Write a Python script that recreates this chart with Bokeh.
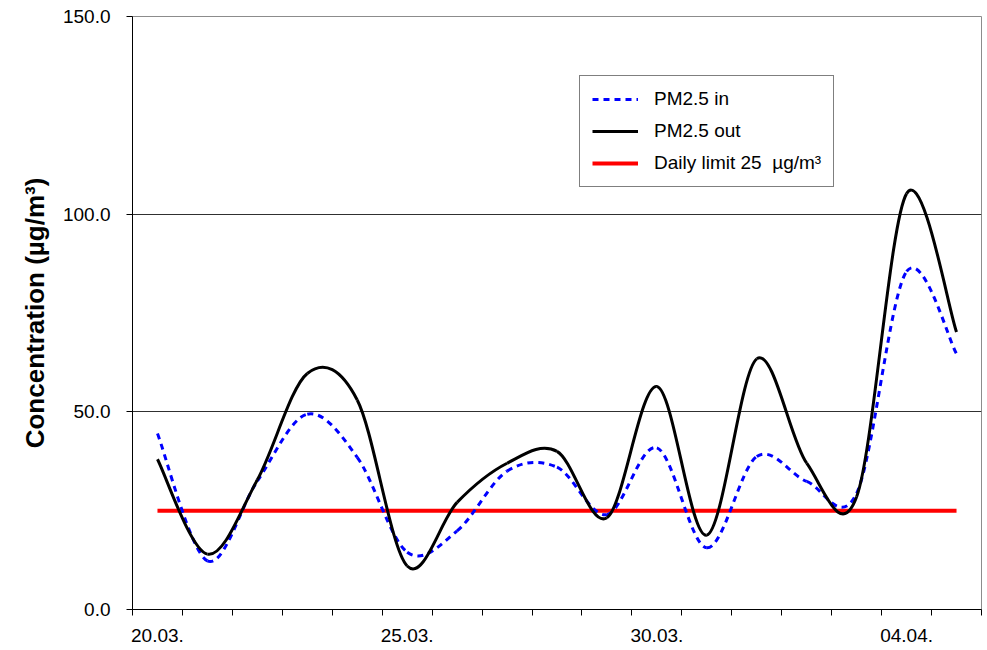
from bokeh.plotting import figure
from bokeh.models import (Range1d, FixedTicker, PrintfTickFormatter, Legend, LegendItem)
from bokeh.embed import file_html
from bokeh.resources import INLINE

# ---- data (daily values, 20.03. - 05.04.) ----
dates = ["20.03.", "21.03.", "22.03.", "23.03.", "24.03.", "25.03.", "26.03.", "27.03.",
         "28.03.", "29.03.", "30.03.", "31.03.", "01.04.", "02.04.", "03.04.", "04.04.", "05.04."]
pm_in = [44.5, 12.3, 32.5, 49.4, 38.5, 14.5, 19.9, 35.0, 36.0, 24.0, 40.9, 15.6, 38.7, 32.4, 29.4, 85.5, 64.7]
pm_out = [38.0, 14.0, 32.8, 59.7, 53.0, 11.0, 27.1, 37.0, 40.0, 23.2, 56.4, 18.8, 63.4, 37.0, 28.5, 105.2, 70.2]
daily_limit = [25] * len(dates)
label_days = ["20.03.", "25.03.", "30.03.", "04.04."]
y_ticks = [0, 50, 100, 150]

FONT = "Liberation Sans"

n = len(dates)
xs = [i + 0.5 for i in range(n)]   # category centres


def smooth_segments(x, y):
    """Bezier segments through the data points (Excel-style smoothing)."""
    m = len(x)
    seg = dict(x0=[], y0=[], x1=[], y1=[], cx0=[], cy0=[], cx1=[], cy1=[])
    for i in range(m - 1):
        xp, yp = (x[i - 1], y[i - 1]) if i > 0 else (x[i], y[i])
        xn, yn = (x[i + 2], y[i + 2]) if i + 2 < m else (x[i + 1], y[i + 1])
        seg["x0"].append(x[i]); seg["y0"].append(y[i])
        seg["x1"].append(x[i + 1]); seg["y1"].append(y[i + 1])
        seg["cx0"].append(x[i] + (x[i + 1] - xp) / 6.0)
        seg["cy0"].append(y[i] + (y[i + 1] - yp) / 6.0)
        seg["cx1"].append(x[i + 1] - (xn - x[i]) / 6.0)
        seg["cy1"].append(y[i + 1] - (yn - y[i]) / 6.0)
    return seg


p = figure(frame_width=849, frame_height=593, output_backend="svg", toolbar_location=None,
           x_range=Range1d(0, n), y_range=Range1d(0, 150),
           min_border_left=132, min_border_right=5, min_border_top=16, min_border_bottom=40)
p.background_fill_color = "white"
p.border_fill_color = "white"
p.outline_line_color = "#8c8c8c"
p.outline_line_width = 1

# limit line
r_lim = p.line(xs, daily_limit, line_color="#ff0000", line_width=4)

# smoothed series
s_in = smooth_segments(xs, pm_in)
s_out = smooth_segments(xs, pm_out)
r_in = p.bezier(source=s_in, x0="x0", y0="y0", x1="x1", y1="y1", cx0="cx0", cy0="cy0",
                cx1="cx1", cy1="cy1", line_color="#0000ff", line_width=3, line_dash="6 5")
r_out = p.bezier(source=s_out, x0="x0", y0="y0", x1="x1", y1="y1", cx0="cx0", cy0="cy0",
                 cx1="cx1", cy1="cy1", line_color="black", line_width=3)

# x axis: labels centred in the day interval, tick marks at day boundaries
label_pos = [dates.index(d) + 0.5 for d in label_days]
xa = p.xaxis[0]
xa.ticker = FixedTicker(ticks=label_pos, minor_ticks=list(range(n + 1)))
xa.major_label_overrides = {pos: d for pos, d in zip(label_pos, label_days)}
xa.major_tick_line_color = None
xa.minor_tick_line_color = "black"
xa.minor_tick_out = 6
xa.minor_tick_in = 0
xa.axis_line_color = "black"
xa.major_label_text_font = FONT
xa.major_label_text_font_size = "19px"
xa.major_label_text_color = "black"
xa.major_label_standoff = 13

# y axis
ya = p.yaxis[0]
ya.ticker = FixedTicker(ticks=y_ticks)
ya.formatter = PrintfTickFormatter(format="%.1f")
ya.major_tick_out = 6
ya.major_tick_in = 0
ya.major_tick_line_color = "black"
ya.minor_tick_line_color = None
ya.axis_line_color = "black"
ya.major_label_text_font = FONT
ya.major_label_text_font_size = "19px"
ya.major_label_text_color = "black"
ya.major_label_standoff = 16
ya.axis_label = "Concentration (µg/m³)"
ya.axis_label_text_font = FONT
ya.axis_label_text_font_style = "bold"
ya.axis_label_text_font_size = "26px"
ya.axis_label_text_color = "black"
ya.axis_label_standoff = 10

p.xgrid.grid_line_color = None
p.ygrid.ticker = FixedTicker(ticks=[50, 100])
p.ygrid.grid_line_color = "#303030"
p.ygrid.grid_line_width = 1

legend = Legend(items=[
    LegendItem(label="PM2.5 in", renderers=[r_in]),
    LegendItem(label="PM2.5 out", renderers=[r_out]),
    LegendItem(label="Daily limit 25  µg/m³", renderers=[r_lim]),
], location=(447, 422))
legend.label_text_font = FONT
legend.label_text_font_size = "19px"
legend.label_text_color = "black"
legend.glyph_width = 46
legend.glyph_height = 22
legend.label_height = 22
legend.label_standoff = 16
legend.spacing = 10
legend.padding = 12
legend.margin = 0
legend.border_line_color = "black"
legend.border_line_width = 1
legend.background_fill_color = "white"
legend.background_fill_alpha = 1.0
p.add_layout(legend, "center")

open("out.html", "w").write(file_html(p, INLINE))
